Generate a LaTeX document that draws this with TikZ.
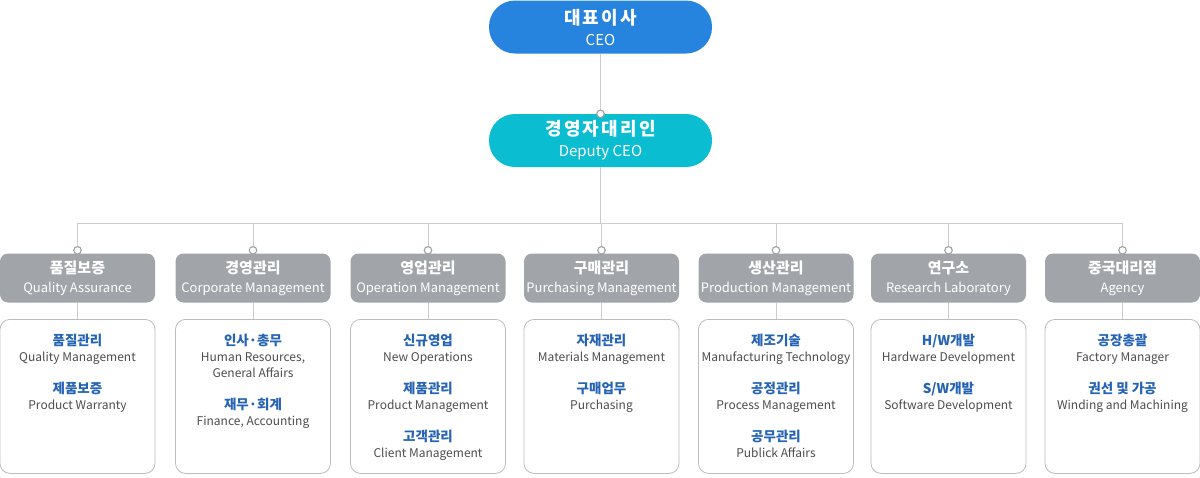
\documentclass[tikz,border=0pt]{standalone}
\usepackage{fontspec}
\setmainfont{Noto Sans CJK KR}
\definecolor{ceoblue}{HTML}{2684DE}
\definecolor{depcyan}{HTML}{0BBDD1}
\definecolor{deptgray}{HTML}{A1A5AA}
\definecolor{linegray}{HTML}{CCCCCC}
\definecolor{dotgray}{HTML}{A0A0A0}
\definecolor{boxline}{HTML}{BCBCBC}
\definecolor{txtblue}{HTML}{2563B4}
\definecolor{txtgray}{HTML}{4D4D4D}
\newcommand\hd[1]{{\color{txtblue}\bfseries\fontsize{13.5}{16}\selectfont #1}}
\begin{document}
\begin{tikzpicture}[x=1pt,y=-1pt,
	pill/.style={rounded corners=26pt,minimum width=223pt,minimum height=53pt,text=white,align=center,inner sep=0pt,font=\fontsize{15}{21}\selectfont},
	dept/.style={fill=deptgray,rounded corners=8pt,minimum width=155pt,minimum height=49pt,text=white,align=center,inner sep=0pt,font=\fontsize{13}{19}\selectfont},
	dtlbox/.style={draw=boxline,fill=white,rounded corners=10pt,minimum width=155pt,minimum height=154pt,anchor=north,line width=0.8pt},
	dtltext/.style={anchor=north,align=center,text=txtgray,inner sep=0pt,font=\fontsize{12}{16}\selectfont},
	link/.style={draw=linegray,line width=1pt},
	joint/.style={circle,draw=dotgray,fill=white,line width=1.1pt,inner sep=0pt,minimum size=7.5pt}]
	\useasboundingbox (0,0) rectangle (1200,477);
	\node[pill,fill=ceoblue] (ceo) at (600.5,27) {{\fontsize{18}{21}\selectfont\bfseries\addfontfeature{LetterSpace=12}대표이사}\\CEO};
	\node[pill,fill=depcyan] (dep) at (600.5,140.5) {{\fontsize{18}{21}\selectfont\bfseries\addfontfeature{LetterSpace=12}경영자대리인}\\Deputy CEO};
	\coordinate (bus) at (600.5,223);
	\draw[link] (ceo.south) -- (dep.north);
	\draw[link] (dep.south) -- (bus);
	\foreach \x/\ko/\en [count=\i] in {77.5/품질보증/Quality Assurance,253/경영관리/Corporate Management,428/영업관리/Operation Management,601.5/구매관리/Purchasing Management,776/생산관리/Production Management,948.5/연구소/Research Laboratory,1122.5/중국대리점/Agency}{
		\node[dept] (dept\i) at (\x,278) {{\fontsize{15}{19}\selectfont\bfseries \ko}\\\en};
		\node[dtlbox] (box\i) at (\x,319) {};
		\draw[link] (dept\i.north |- bus) -- (dept\i.north);
		\draw[link] (dept\i.south) -- (box\i.north);
		\node[joint] (dot\i) at ([yshift=3pt]dept\i.north) {};
	}
	\draw[link] (dept1.north |- bus) -- (dept7.north |- bus);
	\node[joint] (dotdep) at (dep.north) {};
	% detail texts
	\node[dtltext] (txt1) at (77.5,334) {\hd{품질관리}\\Quality Management\\[16pt]\hd{제품보증}\\Product Warranty};
	\node[dtltext] (txt2) at (253,334) {\hd{인사·총무}\\Human Resources,\\General Affairs\\[16pt]\hd{재무·회계}\\Finance, Accounting};
	\node[dtltext] (txt3) at (428,334) {\hd{신규영업}\\New Operations\\[16pt]\hd{제품관리}\\Product Management\\[16pt]\hd{고객관리}\\Client Management};
	\node[dtltext] (txt4) at (601.5,334) {\hd{자재관리}\\Materials Management\\[16pt]\hd{구매업무}\\Purchasing};
	\node[dtltext] (txt5) at (776,334) {\hd{제조기술}\\Manufacturing Technology\\[16pt]\hd{공정관리}\\Process Management\\[16pt]\hd{공무관리}\\Publick Affairs};
	\node[dtltext] (txt6) at (948.5,334) {\hd{H/W개발}\\Hardware Development\\[16pt]\hd{S/W개발}\\Software Development};
	\node[dtltext] (txt7) at (1122.5,334) {\hd{공장총괄}\\Factory Manager\\[16pt]\hd{권선 및 가공}\\Winding and Machining};
\end{tikzpicture}
\end{document}
